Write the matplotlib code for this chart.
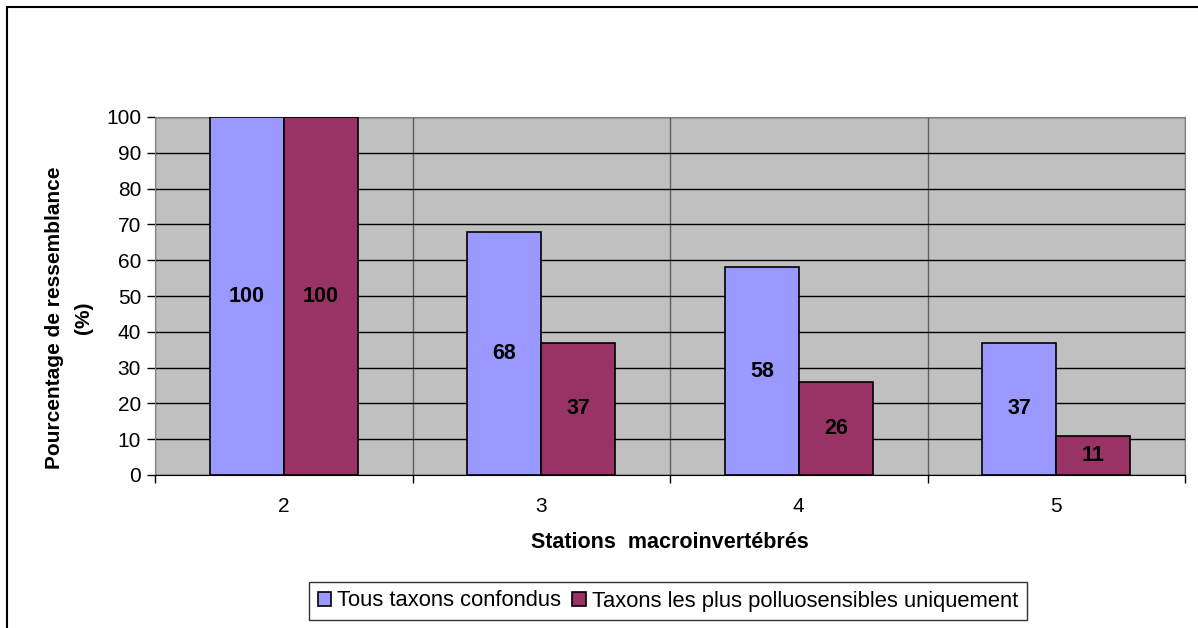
import numpy as np
import matplotlib
matplotlib.use("Agg")
import matplotlib.pyplot as plt
from matplotlib.patches import Rectangle

plt.rcParams["font.family"] = ["Liberation Sans", "DejaVu Sans"]

stations = ["2", "3", "4", "5"]
tous_taxons = [100, 68, 58, 37]
polluosensibles = [100, 37, 26, 11]
series_names = ["Tous taxons confondus", "Taxons les plus polluosensibles uniquement"]
yticks = list(range(0, 101, 10))

BLUE = "#9999FF"
PLUM = "#993366"
GREY = "#C0C0C0"

fig = plt.figure(figsize=(11.98, 6.28), dpi=100)
fig.patches.append(Rectangle((7 / 1198, -0.01), 1.2, 1 - 7 / 628 + 0.01,
                             transform=fig.transFigure, fill=False,
                             edgecolor="black", lw=1.5))
ax = fig.add_axes([155 / 1198, 1 - 475 / 628, 1030 / 1198, 358 / 628])
ax.set_facecolor(GREY)

x = np.arange(len(stations))
w = 0.287
b1 = ax.bar(x - w / 2, tous_taxons, w, color=BLUE, edgecolor="black", lw=1.2,
            label=series_names[0], zorder=3)
b2 = ax.bar(x + w / 2, polluosensibles, w, color=PLUM, edgecolor="black", lw=1.2,
            label=series_names[1], zorder=3)
for bars, vals in ((b1, tous_taxons), (b2, polluosensibles)):
    for r, v in zip(bars, vals):
        ax.text(r.get_x() + r.get_width() / 2, v / 2, f"{v}", ha="center", va="center",
                fontsize=15.5, fontweight="bold", color="black", zorder=4)

ax.set_xlim(-0.5, len(stations) - 0.5)
ax.set_ylim(0, 100)
ax.set_yticks(yticks)
ax.set_yticklabels([str(t) for t in yticks], fontsize=15)
ax.set_xticks(x)
ax.set_xticklabels(stations, fontsize=15)
ax.tick_params(axis="x", length=0, pad=16)
ax.tick_params(axis="y", length=6, width=1, color="black", pad=4)
ax.set_xticks(np.arange(-0.5, len(stations)), minor=True)
ax.tick_params(axis="x", which="minor", length=6, width=1, color="black")
ax.grid(axis="y", color="black", lw=1, zorder=1)
ax.grid(axis="x", which="minor", color="#606060", lw=1, zorder=1)
for side in ("top", "right"):
    ax.spines[side].set_color("#808080")
ax.spines["left"].set_color("#808080")
ax.spines["bottom"].set_color("black")

ax.set_xlabel("Stations  macroinvertébrés", fontsize=15.5, fontweight="bold", labelpad=11)
ax.set_ylabel("Pourcentage de ressemblance\n(%)", fontsize=15, fontweight="bold",
              labelpad=9, linespacing=1.7)
ax.yaxis.label.set_y(0.44)

leg = fig.legend(handles=[b1, b2], loc="center", bbox_to_anchor=(668 / 1198, 1 - 601 / 628),
                 ncol=2, fontsize=15.8, frameon=True, fancybox=False, handlelength=0.6,
                 handleheight=0.6, handletextpad=0.3, columnspacing=0.5,
                 borderpad=0.4, edgecolor="black")
leg.get_frame().set_linewidth(1.0)

fig.savefig("out.png", dpi=100, facecolor="white")
